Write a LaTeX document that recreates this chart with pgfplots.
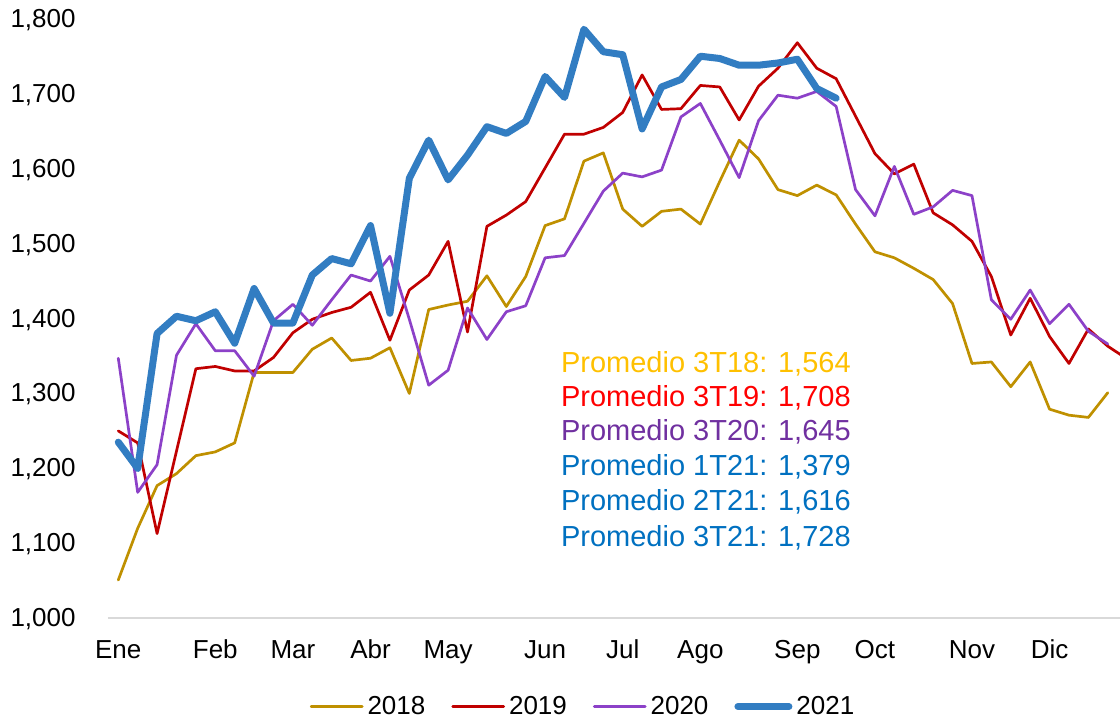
\documentclass[border=0pt]{standalone}
\usepackage{fontspec}
\setmainfont{Liberation Sans}
\usepackage{pgfplots}
\pgfplotsset{compat=1.18}
\definecolor{c18}{RGB}{191,144,0}
\definecolor{c19}{RGB}{192,0,0}
\definecolor{c20}{RGB}{140,65,200}
\definecolor{c21}{RGB}{50,125,194}
\definecolor{a18}{RGB}{255,192,0}
\definecolor{a19}{RGB}{255,0,0}
\definecolor{a20}{RGB}{112,48,160}
\definecolor{a21}{RGB}{0,112,192}
\definecolor{axisgray}{RGB}{217,217,217}
\begin{document}
\begin{tikzpicture}
\begin{axis}[
  at={(0,0)}, anchor=south west,
  scale only axis, width=506pt, height=299.75pt,
  xmin=-0.53, xmax=51.63, ymin=1000, ymax=1800,
  axis line style={draw=none},
  major tick length=0pt,
  xtick={0,5,9,13,17,22,26,30,35,39,44,48},
  xticklabels={Ene,Feb,Mar,Abr,May,Jun,Jul,Ago,Sep,Oct,Nov,Dic},
  ytick={1000,1100,1200,1300,1400,1500,1600,1700,1800},
  /pgf/number format/1000 sep={,},
  /pgf/number format/assume math mode=true,
  tick label style={font=\fontsize{13}{15}\selectfont},
  xticklabel style={anchor=base, inner sep=0pt, yshift=-20.4pt},
  yticklabel style={anchor=base east, inner sep=0pt, xshift=-16pt, yshift=-4.65pt},
  legend columns=4,
  legend style={draw=none, fill=none, at={(0.4704,-0.1485)}, anchor=center,
    font=\fontsize{13}{15}\selectfont, nodes={inner xsep=2pt, inner ysep=0pt},
    /tikz/every even column/.append style={column sep=11pt}},
  legend image code/.code={\draw[#1] (0pt,0pt) -- (25.5pt,0pt);},
]
\addplot[c18, line width=1.35pt, line join=round, line cap=round] table {
0 1050
1 1119
2 1176
3 1192
4 1216
5 1221
6 1233
7 1327
8 1327
9 1327
10 1358
11 1373
12 1343
13 1346
14 1360
15 1299
16 1411
17 1417
18 1422
19 1456
20 1415
21 1455
22 1523
23 1532
24 1609
25 1620
26 1545
27 1522
28 1542
29 1545
30 1525
31 1582
32 1637
33 1612
34 1571
35 1563
36 1577
37 1564
38 1525
39 1488
40 1480
41 1466
42 1451
43 1419
44 1339
45 1341
46 1308
47 1341
48 1278
49 1270
50 1267
51 1300
};
\addplot[c19, line width=1.35pt, line join=round, line cap=round] table {
0 1249
1 1233
2 1112
3 1222
4 1332
5 1335
6 1329
7 1329
8 1347
9 1380
10 1398
11 1407
12 1414
13 1434
14 1370
15 1437
16 1457
17 1502
18 1381
19 1522
20 1537
21 1555
22 1600
23 1645
24 1645
25 1654
26 1674
27 1724
28 1678
29 1679
30 1710
31 1708
32 1664
33 1709
34 1733
35 1767
36 1733
37 1719
38 1669
39 1619
40 1592
41 1605
42 1540
43 1524
44 1502
45 1455
46 1377
47 1426
48 1375
49 1339
50 1385
51 1362
52 1345
};
\addplot[c20, line width=1.35pt, line join=round, line cap=round] table {
0 1346
1 1167
2 1204
3 1350
4 1392
5 1356
6 1356
7 1322
8 1396
9 1418
10 1390
11 1424
12 1457
13 1449
14 1482
15 1398
16 1310
17 1330
18 1413
19 1371
20 1408
21 1416
22 1480
23 1483
24 1526
25 1569
26 1593
27 1588
28 1597
29 1668
30 1686
31 1637
32 1587
33 1663
34 1697
35 1693
36 1702
37 1682
38 1571
39 1536
40 1602
41 1538
42 1548
43 1570
44 1563
45 1424
46 1398
47 1437
48 1392
49 1418
50 1382
51 1365
};
\addplot[c21, line width=3.5pt, line join=round, line cap=round] table {
0 1234
1 1199
2 1379
3 1402
4 1396
5 1408
6 1366
7 1439
8 1393
9 1393
10 1457
11 1479
12 1472
13 1523
14 1406
15 1586
16 1637
17 1584
18 1617
19 1655
20 1646
21 1662
22 1722
23 1694
24 1785
25 1755
26 1751
27 1652
28 1708
29 1718
30 1749
31 1746
32 1737
33 1737
34 1740
35 1745
36 1706
37 1693
};
\legend{2018,2019,2020,2021}
\node[anchor=base west, inner sep=0pt, text=a18, font=\fontsize{14.5}{16}\selectfont] at (axis cs:22.8,1327.2) {Promedio 3T18: 1,564};
\node[anchor=base west, inner sep=0pt, text=a19, font=\fontsize{14.5}{16}\selectfont] at (axis cs:22.8,1282.2) {Promedio 3T19: 1,708};
\node[anchor=base west, inner sep=0pt, text=a20, font=\fontsize{14.5}{16}\selectfont] at (axis cs:22.8,1236.6) {Promedio 3T20: 1,645};
\node[anchor=base west, inner sep=0pt, text=a21, font=\fontsize{14.5}{16}\selectfont] at (axis cs:22.8,1189.8) {Promedio 1T21: 1,379};
\node[anchor=base west, inner sep=0pt, text=a21, font=\fontsize{14.5}{16}\selectfont] at (axis cs:22.8,1143.1) {Promedio 2T21: 1,616};
\node[anchor=base west, inner sep=0pt, text=a21, font=\fontsize{14.5}{16}\selectfont] at (axis cs:22.8,1094.1) {Promedio 3T21: 1,728};
\end{axis}
\draw[axisgray, line width=1pt] (0pt,0pt) -- (506pt,0pt);
\pgfresetboundingbox
\path[use as bounding box] (-54pt,-50.75pt) rectangle (506pt,308.75pt);
\end{tikzpicture}
\end{document}
